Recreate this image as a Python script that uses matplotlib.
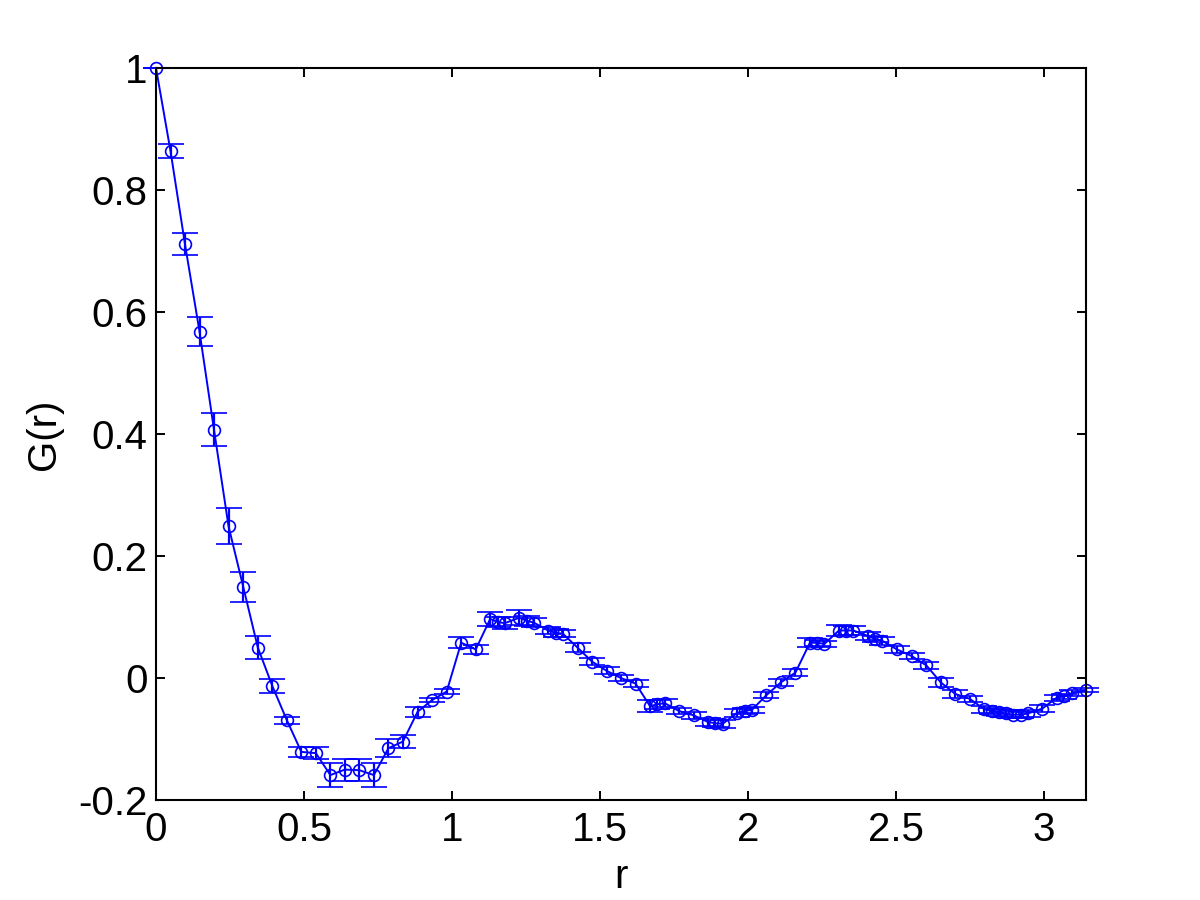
import matplotlib
matplotlib.use("Agg")
import matplotlib.pyplot as plt

plt.rcParams['font.family'] = ['Liberation Sans', 'DejaVu Sans']

r = [0.000, 0.049, 0.098, 0.147, 0.196, 0.245, 0.295, 0.344, 0.393, 0.442,
     0.491, 0.540, 0.589, 0.638, 0.687, 0.736, 0.785, 0.834, 0.884, 0.933,
     0.982, 1.031, 1.080, 1.129, 1.154, 1.178, 1.227, 1.252, 1.276, 1.325,
     1.350, 1.374, 1.424, 1.473, 1.522, 1.571, 1.620, 1.669, 1.694, 1.718,
     1.767, 1.816, 1.865, 1.890, 1.914, 1.963, 1.988, 2.013, 2.062, 2.111,
     2.160, 2.209, 2.234, 2.258, 2.307, 2.332, 2.356, 2.405, 2.430, 2.454,
     2.503, 2.553, 2.602, 2.651, 2.700, 2.749, 2.798, 2.823, 2.847, 2.872,
     2.896, 2.921, 2.945, 2.994, 3.043, 3.068, 3.093, 3.142]

G = [1.000, 0.864, 0.711, 0.568, 0.407, 0.249, 0.149, 0.050, -0.013, -0.069,
     -0.121, -0.123, -0.159, -0.150, -0.151, -0.159, -0.115, -0.104, -0.055, -0.036,
     -0.022, 0.058, 0.047, 0.097, 0.092, 0.090, 0.099, 0.094, 0.091, 0.078,
     0.074, 0.073, 0.050, 0.027, 0.012, 0.000, -0.009, -0.046, -0.043, -0.041,
     -0.054, -0.061, -0.072, -0.074, -0.075, -0.057, -0.054, -0.052, -0.028, -0.007,
     0.009, 0.058, 0.058, 0.056, 0.078, 0.078, 0.078, 0.069, 0.064, 0.061,
     0.047, 0.036, 0.021, -0.007, -0.026, -0.034, -0.051, -0.054, -0.056, -0.058,
     -0.060, -0.060, -0.058, -0.050, -0.032, -0.030, -0.025, -0.020]

err = [0.000, 0.012, 0.018, 0.024, 0.027, 0.029, 0.025, 0.019, 0.012, 0.006,
       0.008, 0.010, 0.020, 0.018, 0.018, 0.019, 0.015, 0.011, 0.008, 0.004,
       0.004, 0.009, 0.007, 0.012, 0.008, 0.010, 0.012, 0.008, 0.008, 0.006,
       0.006, 0.006, 0.008, 0.006, 0.006, 0.005, 0.006, 0.010, 0.007, 0.007,
       0.005, 0.006, 0.006, 0.006, 0.007, 0.006, 0.005, 0.005, 0.005, 0.006,
       0.006, 0.007, 0.005, 0.005, 0.009, 0.007, 0.007, 0.006, 0.005, 0.006,
       0.006, 0.005, 0.006, 0.007, 0.006, 0.005, 0.006, 0.005, 0.006, 0.005,
       0.006, 0.005, 0.006, 0.006, 0.005, 0.004, 0.005, 0.003]

xticks = [0, 0.5, 1, 1.5, 2, 2.5, 3]
xticklabels = ['0', '0.5', '1', '1.5', '2', '2.5', '3']
yticks = [-0.2, 0, 0.2, 0.4, 0.6, 0.8, 1]
yticklabels = ['-0.2', '0', '0.2', '0.4', '0.6', '0.8', '1']

fig = plt.figure(figsize=(12, 9), dpi=100)
ax = fig.add_axes([0.13, 0.111, 0.775, 0.8134])

cont = ax.errorbar(r, G, yerr=err, color=(0, 0, 1), linewidth=1.4,
                   marker='o', markersize=8.5, markerfacecolor='none',
                   markeredgewidth=1.2, capsize=9.4, capthick=1.6, elinewidth=1.6)
for artist in cont.get_children():
    artist.set_clip_on(False)

ax.set_xlim(0, 3.1416)
ax.set_ylim(-0.2, 1)
ax.set_xticks(xticks)
ax.set_xticklabels(xticklabels)
ax.set_yticks(yticks)
ax.set_yticklabels(yticklabels)

ax.tick_params(direction='in', length=6.5, width=1.4, labelsize=29,
               top=True, right=True, colors='black')
ax.tick_params(axis='x', pad=8)
ax.tick_params(axis='y', pad=6)
for s in ax.spines.values():
    s.set_linewidth(1.5)
    s.set_color('black')
    s.set_zorder(3)

ax.set_xlabel('r', fontsize=29, labelpad=6)
ax.set_ylabel('G(r)', fontsize=29, labelpad=11)

fig.savefig('out.png', dpi=100, facecolor='white')
